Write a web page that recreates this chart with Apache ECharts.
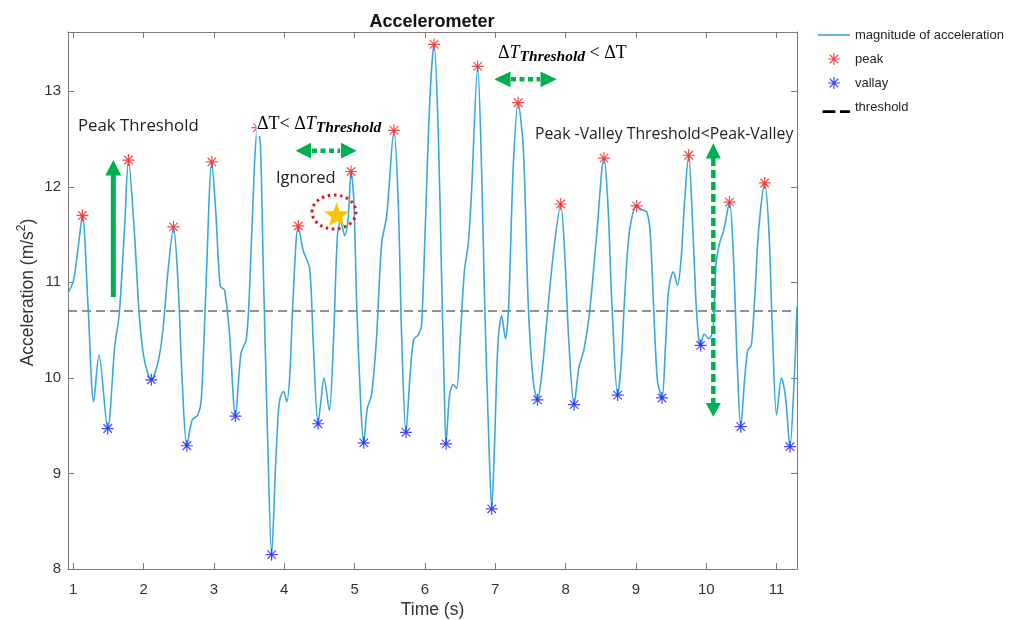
<!DOCTYPE html>
<html>
<head>
<meta charset="utf-8">
<script src="https://cdn.jsdelivr.net/npm/echarts@6/dist/echarts.min.js"></script>
<style>
html,body{margin:0;padding:0;background:#fff;}
#chart{width:1016px;height:620px;}
</style>
</head>
<body>
<div id="chart"></div>
<script>
// ---------------- data ----------------
const timeS = [0.925,1.00,1.065,1.13,1.21,1.29,1.365,1.49,1.59,1.65,1.68,1.73,1.785,1.87,1.94,2.01,2.11,2.20,2.27,2.345,2.425,2.49,2.55,2.615,2.69,2.77,2.82,2.88,2.97,3.03,3.09,3.15,3.22,3.305,3.385,3.46,3.51,3.575,3.62,3.66,3.70,3.76,3.82,3.88,3.93,3.99,4.035,4.08,4.12,4.20,4.27,4.36,4.41,4.48,4.52,4.565,4.64,4.70,4.755,4.80,4.86,4.91,4.95,4.99,5.03,5.09,5.13,5.18,5.24,5.31,5.385,5.455,5.56,5.62,5.67,5.73,5.79,5.84,5.905,5.95,6.00,6.07,6.13,6.19,6.235,6.27,6.30,6.35,6.40,6.45,6.50,6.56,6.615,6.66,6.75,6.805,6.85,6.91,6.95,6.99,7.04,7.09,7.145,7.19,7.255,7.325,7.40,7.47,7.54,7.60,7.66,7.73,7.82,7.93,8.00,8.045,8.12,8.19,8.26,8.34,8.44,8.545,8.60,8.66,8.74,8.79,8.84,8.91,9.01,9.08,9.15,9.20,9.245,9.305,9.37,9.42,9.465,9.53,9.59,9.645,9.69,9.75,9.80,9.85,9.89,9.92,9.97,10.035,10.095,10.14,10.19,10.25,10.33,10.39,10.44,10.49,10.545,10.59,10.64,10.69,10.745,10.83,10.89,10.94,11.00,11.07,11.125,11.19,11.25,11.29];
const accel = [10.89,11.01,11.34,11.70,10.75,9.75,10.24,9.47,10.33,10.64,10.95,11.58,12.28,11.51,10.64,10.19,9.98,10.15,10.47,11.10,11.58,10.99,9.95,9.29,9.56,9.61,9.77,10.82,12.26,11.69,10.96,10.92,10.47,9.60,10.26,10.40,10.99,12.21,12.62,12.45,11.20,9.46,8.15,9.14,9.75,9.86,9.75,10.04,10.76,11.59,11.33,11.15,10.40,9.52,9.75,10.00,9.66,10.40,11.48,11.64,11.49,11.69,12.16,11.84,10.76,9.68,9.32,9.68,9.82,10.40,11.41,11.69,12.59,11.84,10.40,9.43,10.04,10.40,10.45,10.54,11.48,12.92,13.49,12.56,11.11,10.03,9.31,9.82,9.93,9.89,10.39,11.11,11.40,11.91,13.26,12.20,10.75,9.31,8.63,9.31,10.39,10.65,10.41,10.75,12.20,12.88,12.38,10.75,9.96,9.77,10.03,10.57,11.26,11.82,11.11,10.39,9.72,10.11,10.29,10.68,11.48,12.30,11.84,10.75,9.82,10.15,10.85,11.55,11.80,11.76,11.74,11.55,10.85,9.98,9.79,10.33,10.92,11.11,10.97,11.27,11.83,12.33,11.72,10.85,10.43,10.34,10.46,10.41,10.50,11.20,11.41,11.55,11.84,11.20,10.15,9.49,9.98,10.29,10.34,10.85,11.55,12.04,11.55,10.50,9.61,10.00,9.81,9.28,9.98,10.75];
const peakTime = [1.13,1.785,2.425,2.97,3.62,4.20,4.95,5.56,6.13,6.75,7.325,7.93,8.545,9.01,9.75,10.33,10.83];
const peakAccel = [11.70,12.28,11.58,12.26,12.62,11.59,12.16,12.59,13.49,13.26,12.88,11.82,12.30,11.80,12.33,11.84,12.04];
const valleyTime = [1.49,2.11,2.615,3.305,3.82,4.48,5.13,5.73,6.30,6.95,7.60,8.12,8.74,9.37,9.92,10.49,11.19];
const valleyAccel = [9.47,9.98,9.29,9.60,8.15,9.52,9.32,9.43,9.31,8.63,9.77,9.72,9.82,9.79,10.34,9.49,9.28];
const thresholdValue = 10.7;
const xTicks = [1,2,3,4,5,6,7,8,9,10,11];
const yTicks = [8,9,10,11,12,13];
const xRange = [0.925, 11.29];
const yRange = [8, 13.62];

// ---------------- styles ----------------
const FONT = '"Liberation Sans", Arial, Helvetica, sans-serif';
const ANN = '"Open Sans", Lato, "Noto Sans", sans-serif';
const SERIF = '"Liberation Serif", "DejaVu Serif", serif';
const axisColor = '#7a7a7a';
const lineColor = '#3aa8dc';
const green = '#00b050';
const ASTER = 'path://M0,9L20,9L20,11L0,11Z M9,0L11,0L11,20L9,20Z M3.64,2.22L17.78,16.36L16.36,17.78L2.22,3.64Z M17.78,3.64L3.64,17.78L2.22,16.36L16.36,2.22Z';

const chart = echarts.init(document.getElementById('chart'), null, {renderer:'canvas'});

function zip(a,b){return a.map((v,i)=>[v,b[i]]);}

function starPoints(cx, cy, R, r){
  const pts=[];
  for(let k=0;k<10;k++){
    const ang = -Math.PI/2 + k*Math.PI/5;
    const rad = k%2===0 ? R : r;
    pts.push([cx+rad*Math.cos(ang), cy+rad*Math.sin(ang)]);
  }
  return pts;
}

function baseX(pos, showLabel){
  return {
    type:'value', min:xRange[0], max:xRange[1], position:pos,
    axisLine:{show:true, onZero:false, lineStyle:{color:axisColor, width:1}},
    axisTick:{show:true, inside:true, length:6, customValues:xTicks, lineStyle:{color:axisColor}},
    axisLabel:{show:showLabel, customValues:xTicks, margin:13, fontSize:15, color:'#333', fontFamily:FONT},
    splitLine:{show:false}
  };
}
function baseY(pos, showLabel){
  return {
    type:'value', min:yRange[0], max:yRange[1], position:pos,
    axisLine:{show:true, onZero:false, lineStyle:{color:axisColor, width:1}},
    axisTick:{show:true, inside:true, length:6, customValues:yTicks, lineStyle:{color:axisColor}},
    axisLabel:{show:showLabel, customValues:yTicks, margin:7, fontSize:15, color:'#333', fontFamily:FONT},
    splitLine:{show:false}
  };
}

const xBottom = Object.assign(baseX('bottom', true), {
  name:'Time (s)', nameLocation:'middle', nameGap:32, nameMoveOverlap:false,
  nameTextStyle:{fontSize:17.5, color:'#333', fontFamily:FONT}
});
const yLeft = Object.assign(baseY('left', true), {
  name:'{n|Acceleration (m/s}{s|2}{n|)}', nameLocation:'middle', nameGap:31, nameMoveOverlap:false,
  nameTextStyle:{color:'#333', fontFamily:FONT, fontSize:17.5, padding:[0,0,0,16],
    rich:{n:{fontSize:17.5, color:'#333', fontFamily:FONT, lineHeight:21, verticalAlign:'bottom'},
          s:{fontSize:12, color:'#333', fontFamily:FONT, lineHeight:21, verticalAlign:'top'}}}
});

const formulaRich = {
  m:{fontFamily:SERIF, fontSize:18, color:'#333', lineHeight:24, verticalAlign:'middle'},
  i:{fontFamily:SERIF, fontSize:18, fontStyle:'italic', color:'#333', lineHeight:24, verticalAlign:'middle'},
  s:{fontFamily:SERIF, fontSize:15.5, fontStyle:'italic', fontWeight:'bold', color:'#333', lineHeight:24, verticalAlign:'bottom'}
};

const graphic = [
  // Peak threshold annotation
  {type:'text', x:78, y:126, z:100, style:{text:'Peak Threshold', font:'16.8px '+ANN, fill:'#222', verticalAlign:'middle', align:'left'}},
  {type:'rect', z:100, shape:{x:110.8, y:175, width:5, height:122}, style:{fill:green}},
  {type:'polygon', z:100, shape:{points:[[113.3,160],[105.3,175.5],[121.3,175.5]]}, style:{fill:green}},
  // ΔT < ΔT_threshold
  {type:'rect', z:100, shape:{x:256.5, y:112, width:130, height:24}, style:{fill:'#fff'}},
  {type:'text', x:257, y:124, z:101, style:{text:'{m|ΔT< Δ}{i|T}{s|Threshold}', rich:formulaRich, verticalAlign:'middle', align:'left'}},
  {type:'line', z:100, shape:{x1:312, y1:150.7, x2:340, y2:150.7}, style:{stroke:green, lineWidth:4.5, lineDash:[5,3.5]}},
  {type:'polygon', z:100, shape:{points:[[295.7,150.7],[311,142.8],[311,158.6]]}, style:{fill:green}},
  {type:'polygon', z:100, shape:{points:[[356.7,150.7],[341,142.8],[341,158.6]]}, style:{fill:green}},
  {type:'text', x:276, y:178, z:100, style:{text:'Ignored', font:'16.5px '+ANN, fill:'#222', verticalAlign:'middle', align:'left'}},
  {type:'ellipse', z:100, shape:{cx:334, cy:212, rx:22, ry:17}, style:{fill:null, stroke:'#e4161c', lineWidth:3, lineDash:[2.5,3.6]}},
  {type:'polygon', z:101, shape:{points:starPoints(336.7, 215.5, 13, 5.4)}, style:{fill:'#ffc000'}},
  // ΔT_threshold < ΔT
  {type:'text', x:498, y:53, z:101, style:{text:'{m|Δ}{i|T}{s|Threshold}{m| < ΔT}', rich:formulaRich, verticalAlign:'middle', align:'left'}},
  {type:'line', z:100, shape:{x1:511, y1:79.3, x2:540, y2:79.3}, style:{stroke:green, lineWidth:4.5, lineDash:[5,3.5]}},
  {type:'polygon', z:100, shape:{points:[[494.3,79.3],[510.5,71.4],[510.5,87.2]]}, style:{fill:green}},
  {type:'polygon', z:100, shape:{points:[[556.7,79.3],[540.5,71.4],[540.5,87.2]]}, style:{fill:green}},
  // Peak-Valley annotation
  {type:'text', x:535, y:134, z:100, style:{text:'Peak -Valley Threshold<Peak-Valley', font:'15.8px '+ANN, fill:'#222', verticalAlign:'middle', align:'left'}},
  {type:'line', z:100, shape:{x1:713.3, y1:158, x2:713.3, y2:403.5}, style:{stroke:green, lineWidth:4.5, lineDash:[8,4]}},
  {type:'polygon', z:100, shape:{points:[[713.3,143.3],[705.8,158.5],[720.8,158.5]]}, style:{fill:green}},
  {type:'polygon', z:100, shape:{points:[[713.3,416.7],[705.8,403],[720.8,403]]}, style:{fill:green}}
];

const option = {
  animation:false,
  backgroundColor:'#ffffff',
  title:{text:'Accelerometer', left:427, top:8, textAlign:'center',
    textStyle:{fontFamily:FONT, fontSize:18, fontWeight:'bold', color:'#111'}},
  legend:{
    orient:'vertical', left:818, top:28.5, padding:0, itemWidth:32, itemHeight:12, itemGap:11,
    textStyle:{fontFamily:FONT, fontSize:13, color:'#262626'},
    itemStyle:{borderWidth:0},
    selectedMode:false,
    data:[
      {name:'magnitude of acceleration', icon:'path://M0,0L32,0L32,1.6L0,1.6Z', itemStyle:{color:lineColor, borderWidth:0}},
      {name:'peak', icon:ASTER, itemStyle:{color:'#ff1a1a', borderWidth:0}},
      {name:'vallay', icon:ASTER, itemStyle:{color:'#1a1aff', borderWidth:0}},
      {name:'threshold', icon:'path://M0,0L0.05,0L0.05,0.05Z M5,10L19,10L19,13L5,13Z M24,10L35,10L35,13L24,13Z', itemStyle:{color:'#000', borderWidth:0}}
    ]
  },
  grid:{left:68, right:219, top:32, bottom:51, outerBoundsMode:'none', containLabel:false},
  xAxis:[xBottom, baseX('top', false)],
  yAxis:[yLeft, baseY('right', false)],
  series:[
    {name:'threshold', type:'line', xAxisIndex:0, yAxisIndex:0, z:1,
      data:[[xRange[0], thresholdValue],[xRange[1], thresholdValue]],
      symbol:'none', silent:true,
      lineStyle:{color:'#6e6e6e', width:1.5, type:[9,5]}, itemStyle:{color:'#000'}},
    {name:'magnitude of acceleration', type:'line', xAxisIndex:0, yAxisIndex:0, z:2,
      data:zip(timeS, accel), symbol:'none', showSymbol:false, smooth:0.3,
      lineStyle:{color:lineColor, width:1.6}, itemStyle:{color:lineColor}},
    {name:'peak', type:'scatter', xAxisIndex:0, yAxisIndex:0, z:3,
      data:zip(peakTime, peakAccel), symbol:ASTER, symbolSize:12,
      itemStyle:{color:'#ff1a1a'}},
    {name:'vallay', type:'scatter', xAxisIndex:0, yAxisIndex:0, z:3,
      data:zip(valleyTime, valleyAccel), symbol:ASTER, symbolSize:12,
      itemStyle:{color:'#1a1aff'}}
  ],
  graphic:graphic
};
chart.setOption(option);
</script>
</body>
</html>
